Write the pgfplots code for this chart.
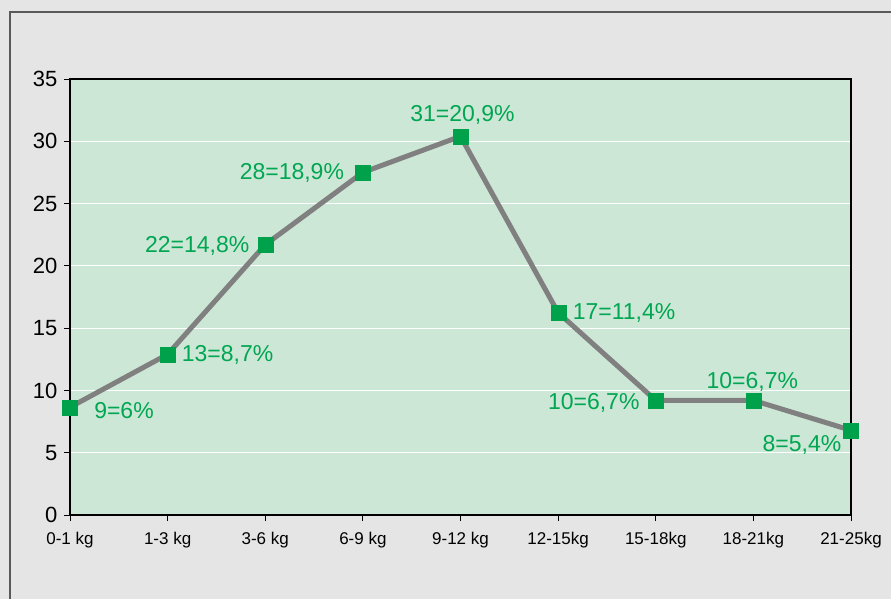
\documentclass[border=0pt]{standalone}
\usepackage{pgfplots}
\pgfplotsset{compat=1.18}
\usepackage{fontspec}
\setmainfont{Liberation Sans}
\definecolor{bggray}{HTML}{E5E5E5}
\definecolor{plotbg}{HTML}{CDE7D6}
\definecolor{mkgreen}{HTML}{00A14B}
\definecolor{txtgreen}{HTML}{00A651}
\definecolor{linegray}{HTML}{808080}
\begin{document}
\begin{tikzpicture}[x=1pt,y=1pt]
\useasboundingbox (0,0) rectangle (891,-599);
\fill[bggray] (0,0) rectangle (891,-599);
\draw[line width=1.5pt, color=black!65] (10,-599) -- (10,-12) -- (891,-12);
\begin{axis}[
  at={(70pt,-515pt)}, anchor=south west,
  scale only axis, width=781pt, height=436pt,
  xmin=0, xmax=8, ymin=0, ymax=35,
  axis background/.style={fill=plotbg},
  axis line style={black, line width=1.2pt},
  ymajorgrids, major grid style={white, line width=1.2pt},
  xtick={0,...,8},
  xticklabels={0-1 kg,1-3 kg,3-6 kg,6-9 kg,9-12 kg,12-15kg,15-18kg,18-21kg,21-25kg},
  ytick={0,5,...,35},
  tick align=outside, tick pos=left, major tick length=6pt,
  tick style={black, line width=1pt},
  xticklabel style={font=\fontsize{17}{20}\selectfont, yshift=-8pt},
  yticklabel style={font=\fontsize{22}{26}\selectfont, xshift=-3pt},
  /pgf/number format/assume math mode=true,
  clip=false,
]
\addplot[color=linegray, line width=5pt,
  mark=square*, mark size=7.5pt, mark options={fill=mkgreen, draw=mkgreen, line width=0.1pt},
  nodes near coords, point meta=explicit symbolic,
  visualization depends on={value \thisrow{dx}\as\mydx},
  visualization depends on={value \thisrow{dy}\as\mydy},
  every node near coord/.append style={anchor=center, xshift=\mydx pt, yshift=\mydy pt,
    text=txtgreen, font=\fontsize{23}{27}\selectfont},
] table[meta=label] {
x y label dx dy
0 8.65 9=6\% 54 -3
1 12.9 13=8,7\% 60 -1
2 21.7 22=14,8\% -68 -1
3 27.5 28=18,9\% -71 -1
4 30.4 31=20,9\% 2 21
5 16.25 17=11,4\% 66 0
6 9.2 10=6,7\% -62 -3
7 9.2 10=6,7\% -1 18
8 6.8 8=5,4\% -49 -15
};
\end{axis}
\end{tikzpicture}
\end{document}
